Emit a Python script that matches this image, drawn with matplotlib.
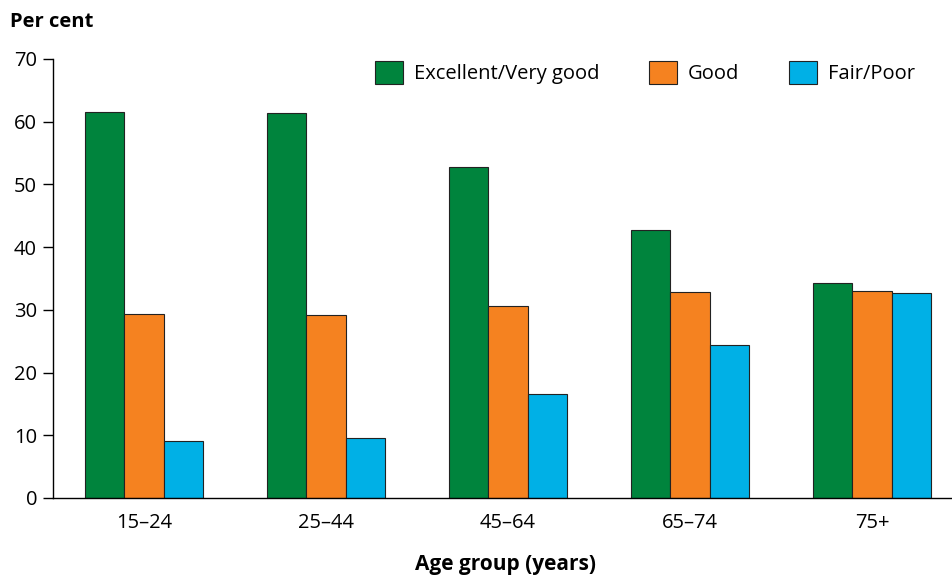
import numpy as np
import matplotlib.pyplot as plt
from matplotlib.patches import Patch

plt.rcParams['font.family'] = ['Open Sans', 'DejaVu Sans']

# Data
age_groups = ['15–24', '25–44', '45–64', '65–74', '75+']
excellent = [61.6, 61.4, 52.8, 42.7, 34.3]
good = [29.3, 29.2, 30.6, 32.8, 33.0]
fair_poor = [9.1, 9.6, 16.6, 24.4, 32.7]

series = ['Excellent/Very good', 'Good', 'Fair/Poor']
colors = ['#00843D', '#F58220', '#00B0E6']

fig = plt.figure(figsize=(9.53, 5.83), dpi=100)
ax = fig.add_axes([0.0556, 0.1458, 0.9444, 0.753])

x = np.arange(len(age_groups))
width = 0.216
for i, (vals, col) in enumerate(zip([excellent, good, fair_poor], colors)):
    ax.bar(x + (i - 1) * width, vals, width, color=col, edgecolor='#222222', linewidth=0.8)

ax.set_xlim(-0.5, 4.445)
ax.set_ylim(0, 70)
ax.set_yticks(range(0, 71, 10))
ax.set_xticks(x)
ax.set_xticklabels(age_groups)
ax.tick_params(axis='y', direction='out', length=7, width=1, labelsize=14.5, pad=4.5)
ax.tick_params(axis='x', length=0, labelsize=14.5, pad=11)
for side in ['top', 'right']:
    ax.spines[side].set_visible(False)
ax.spines['left'].set_linewidth(1)
ax.spines['bottom'].set_linewidth(1)

fig.text(0.011, 0.962, 'Per cent', fontsize=14.5, fontweight='bold', va='center', ha='left')
fig.text(0.53, 0.014, 'Age group (years)', fontsize=15, fontweight='bold', va='bottom', ha='center')

handles = [Patch(facecolor=c, edgecolor='#222222', linewidth=0.8) for c in colors]
fig.legend(handles, series, loc='center right', bbox_to_anchor=(0.975, 0.876), ncol=3,
           frameon=False, fontsize=14.5, handlelength=1.4, handleheight=1.4,
           handletextpad=0.55, columnspacing=2.45, borderpad=0.2)

plt.savefig('out.png', dpi=100)
